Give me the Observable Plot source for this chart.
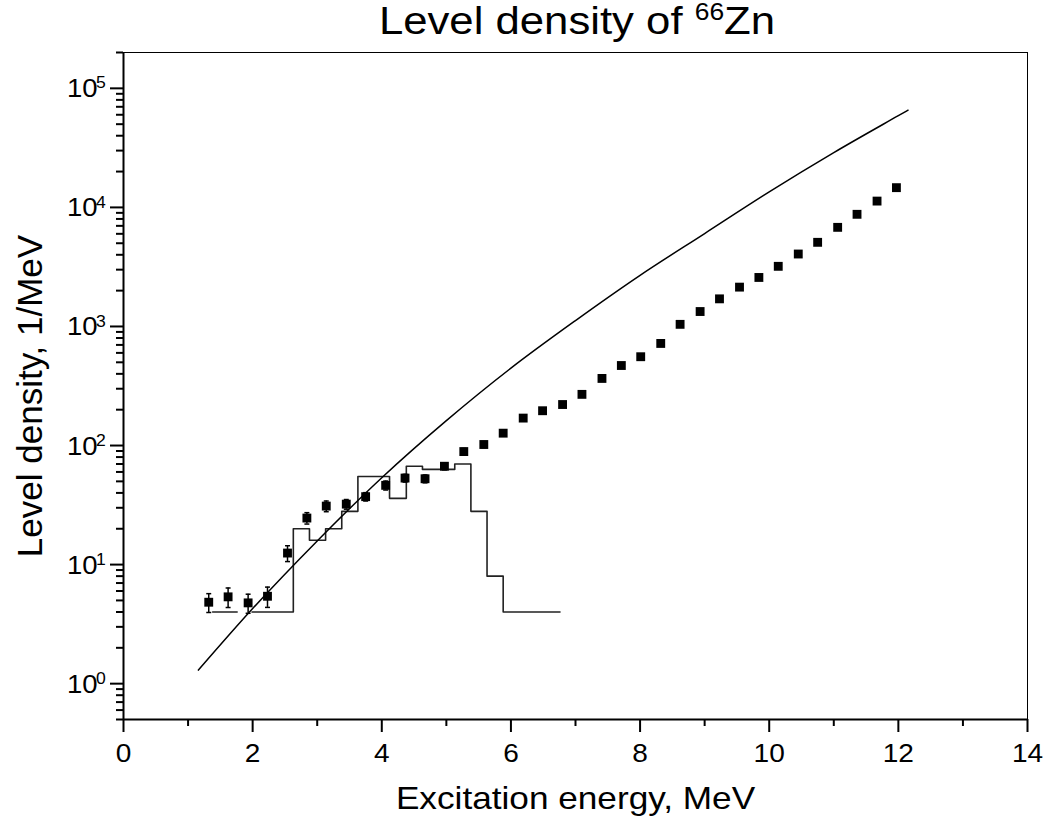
<!DOCTYPE html>
<html><head><meta charset="utf-8">
<script src="https://cdn.jsdelivr.net/npm/d3@7"></script>
<script src="https://cdn.jsdelivr.net/npm/@observablehq/plot@0.6"></script>
<style>
body{margin:0;background:#fff;}
#wrap{position:relative;width:1047px;height:823px;font-family:"Liberation Sans",Arial,sans-serif;}
#title{position:absolute;top:2px;left:0;width:1154px;text-align:center;font-size:38px;color:#000;line-height:38px;white-space:nowrap;transform:scaleX(1.15);transform-origin:577px 0;}
#title sup{font-size:23px;vertical-align:0;position:relative;top:-14px;}
#chart{position:absolute;top:0;left:0;}
</style></head><body>
<div id="wrap"><div id="chart"></div><div id="title">Level density of <sup>66</sup>Zn</div></div>
<script>
// experimental level density points
const energy = [1.32, 1.62, 1.93, 2.23, 2.54, 2.84, 3.14, 3.45, 3.75, 4.06, 4.36, 4.67, 4.97, 5.27, 5.58, 5.88, 6.19, 6.49, 6.80, 7.10, 7.41, 7.71, 8.01, 8.32, 8.62, 8.93, 9.23, 9.54, 9.84, 10.14, 10.45, 10.75, 11.06, 11.36, 11.67, 11.97];
const density = [4.83, 5.36, 4.77, 5.42, 12.5, 24.6, 31, 32.2, 37.2, 46.3, 53.3, 52.6, 67, 89, 102, 127, 170, 196, 221, 269, 366, 470, 557, 720, 1042, 1335, 1706, 2140, 2580, 3200, 4060, 5090, 6800, 8750, 11300, 14650];
const errors = [0.87, 1.0, 0.87, 1.05, 1.9, 2.7, 3.2, 3.0, 3.0, 4.0, 4.0, 4.0, 4.5, 5.5, 6.0, 7.0];

// model curve
const curveE = [1.16, 2.0, 3.0, 4.0, 5.0, 6.0, 7.0, 8.0, 9.0, 10.0, 11.0, 12.0, 12.15];
const curveV = [1.30, 4.27, 15.8, 53.7, 162, 447, 1122, 2690, 6030, 13490, 28840, 58900, 65500];

// discrete levels histogram
const histEdges = [1.38, 1.76, 1.99, 2.63, 2.88, 3.13, 3.38, 3.63, 4.12, 4.38, 4.63, 5.13, 5.38, 5.63, 5.88, 6.76];
const histValues = [4, null, 4, 20, 16, 20, 28, 55, 36, 67, 63, 70, 28, 8, 4];

// ticks
const xMajor = [0, 2, 4, 6, 8, 10, 12, 14];
const xMinor = [1, 3, 5, 7, 9, 11, 13];
const yMajor = [1, 10, 100, 1000, 10000, 100000];

const yMinor = [];
[0.1, 1, 10, 100, 1000, 10000, 100000].forEach(d => { for (let m = 2; m <= 9; m++) { const v = m * d; if (v >= 0.5 && v <= 2e5 && !yMajor.includes(v)) yMinor.push(v); } });

const points = energy.map((E, i) => ({E, v: density[i]}));
const errData = errors.map((e, i) => ({E: energy[i], lo: density[i] - e, hi: density[i] + e}));
const caps = errData.flatMap(d => [{E: d.E, v: d.lo}, {E: d.E, v: d.hi}]);
const curve = curveE.map((E, i) => ({E, v: curveV[i]}));
const hist = []; let g = 0;
histValues.forEach((v, i) => { if (v == null) { g++; return; } hist.push({E: histEdges[i], v, g}, {E: histEdges[i + 1], v, g}); });

const capSymbol = {draw(ctx, size) { const w = Math.sqrt(size) / 2; ctx.moveTo(-w, 0); ctx.lineTo(w, 0); }};

const chart = Plot.plot({
  width: 1047, height: 823,
  marginLeft: 123, marginRight: 20, marginTop: 52, marginBottom: 104,
  x: {domain: [0, 14]},
  y: {type: "log", domain: [0.5, 2e5]},
  style: {fontFamily: "'Liberation Sans', Arial, sans-serif", fontSize: "25px", color: "black", background: "white"},
  marks: [
    Plot.frame({stroke: "black", strokeWidth: 1}),
    Plot.ruleX([0], {stroke: "black", strokeWidth: 2}),
    Plot.ruleY([0.5], {stroke: "black", strokeWidth: 2}),
    Plot.axisX(xMajor, {tickSize: 13, tickPadding: 11, strokeWidth: 2, fontSize: 25.5, label: null}),
    Plot.axisX(xMinor, {tickSize: 7, strokeWidth: 2, fill: null, label: null}),
    Plot.axisY(yMajor, {tickSize: 13, strokeWidth: 2, fill: null, label: null}),
    Plot.axisY(yMinor, {tickSize: 7, strokeWidth: 2, fill: null, label: null}),
    Plot.axisY(yMajor, {tickSize: 0, tickPadding: 26, dy: 1, fontSize: 25, tickFormat: () => "10", label: null}),
    Plot.axisY(yMajor, {tickSize: 0, tickPadding: 27.5, textAnchor: "start", dy: -5, fontSize: 16, tickFormat: d => String(Math.round(Math.log10(d))), label: null}),
    Plot.text(["Excitation energy, MeV"], {frameAnchor: "bottom", lineAnchor: "middle", textAnchor: "middle", dy: 79, fontSize: 32}),
    Plot.text(["Level density, 1/MeV"], {frameAnchor: "left", lineAnchor: "middle", textAnchor: "middle", rotate: -90, dx: -93, dy: 10, fontSize: 35}),
    Plot.line(hist, {x: "E", y: "v", z: "g", stroke: "#222", strokeWidth: 1.6}),
    Plot.line(curve, {x: "E", y: "v", curve: "monotone-x", stroke: "black", strokeWidth: 1.5}),
    Plot.ruleX(errData, {x: "E", y1: "lo", y2: "hi", stroke: "black", strokeWidth: 1.5}),
    Plot.dot(caps, {x: "E", y: "v", symbol: capSymbol, r: 2.8, stroke: "black", strokeWidth: 1.5, fill: "none"}),
    Plot.dot(points, {x: "E", y: "v", symbol: "square", r: 5, fill: "black", stroke: null})
  ]
});

// the reference glyphs are slightly wider than the font's own proportions
const stretch = 1.1;
chart.querySelectorAll("text").forEach(t => {
  const tr = t.getAttribute("transform") || "";
  if (/rotate/.test(tr)) return;
  t.setAttribute("transform", `${tr} scale(${stretch},1)`);
});
document.getElementById("chart").appendChild(chart);
</script>
</body></html>
